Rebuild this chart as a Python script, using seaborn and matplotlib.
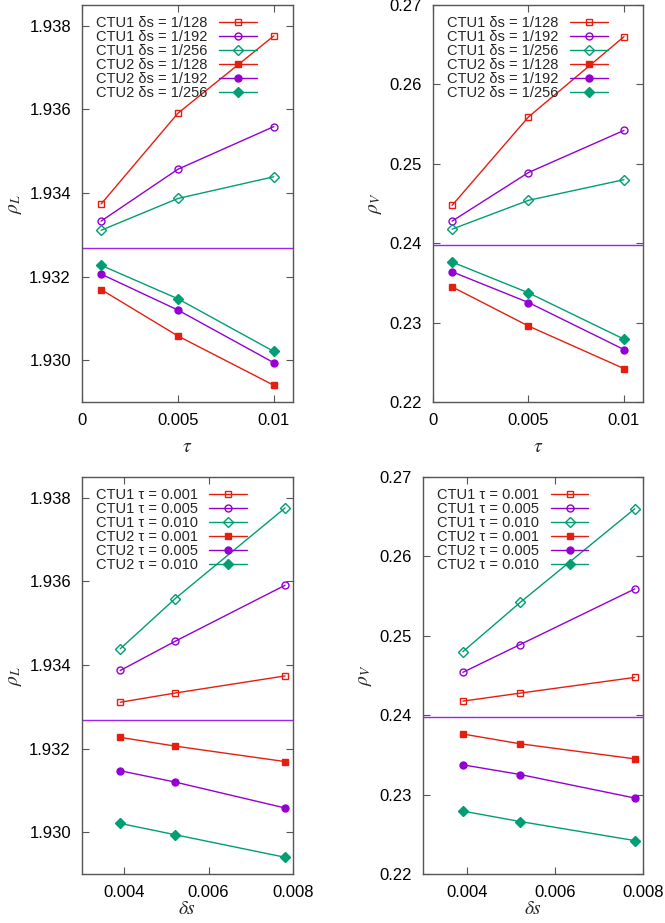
import numpy as np
import matplotlib
matplotlib.use("Agg")
import matplotlib.pyplot as plt
import seaborn as sns

# ── data ─────────────────────────────────────────────────
tau = [0.001, 0.005, 0.01]
ds = [1 / 256, 1 / 192, 1 / 128]
ds_names = ["1/128", "1/192", "1/256"]
tau_names = ["0.001", "0.005", "0.010"]

# rows: ds = 1/128, 1/192, 1/256 ; cols: tau = 0.001, 0.005, 0.01
rhoL_ctu1 = [[1.93374, 1.93591, 1.93776],
             [1.93333, 1.93457, 1.93559],
             [1.93311, 1.93387, 1.93439]]
rhoL_ctu2 = [[1.93169, 1.93058, 1.92940],
             [1.93206, 1.93120, 1.92994],
             [1.93227, 1.93147, 1.93021]]
rhoV_ctu1 = [[0.24476, 0.25590, 0.26600],
             [0.24278, 0.24890, 0.25420],
             [0.24177, 0.24540, 0.24800]]
rhoV_ctu2 = [[0.23450, 0.22957, 0.22421],
             [0.23640, 0.23253, 0.22661],
             [0.23763, 0.23375, 0.22792]]
rhoL_ref = 1.93269
rhoV_ref = 0.23975

# ── style ────────────────────────────────────────────────
sns.set_style("ticks")
plt.rcParams["font.family"] = ["Liberation Sans", "DejaVu Sans"]
plt.rcParams["mathtext.fontset"] = "stix"
colors = ["#e51e10", "#9400d3", "#009e73"]
markers = ["s", "o", "D"]
msizes = [5, 5, 5.5]
frame = "#555555"

fig = plt.figure(figsize=(6.65, 9.23), dpi=100)
W, H = 665, 923


def box(l, r, t, b):
    return [l / W, 1 - b / H, (r - l) / W, (b - t) / H]


def style_axes(ax):
    for s in ax.spines.values():
        s.set_color(frame)
        s.set_linewidth(1.0)
    ax.tick_params(direction="in", length=5, width=0.8, color=frame,
                   top=True, right=True, labelsize=12, labelcolor="black", pad=8)


def draw(ax, xs, top, bot, ref, names, prefix, transpose):
    top = np.array(top)
    bot = np.array(bot)
    if transpose:
        # rows become tau, x becomes ds (ascending): ds order 1/256,1/192,1/128
        top = top.T[:, ::-1]
        bot = bot.T[:, ::-1]
    for i in range(3):
        sns.lineplot(x=xs, y=top[i], ax=ax, color=colors[i], marker=markers[i],
                     markersize=msizes[i], markerfacecolor="none",
                     markeredgecolor=colors[i], markeredgewidth=1.0, linewidth=1.0,
                     label=f"CTU1 {prefix} = {names[i]}")
    for i in range(3):
        sns.lineplot(x=xs, y=bot[i], ax=ax, color=colors[i], marker=markers[i],
                     markersize=msizes[i], markerfacecolor=colors[i],
                     markeredgecolor=colors[i], markeredgewidth=1.0, linewidth=1.0,
                     label=f"CTU2 {prefix} = {names[i]}")
    ax.axhline(ref, color="#a020f0", linewidth=1.0)
    ax.legend(loc="upper left", bbox_to_anchor=(0.03, 0.99), frameon=False,
              markerfirst=False, fontsize=10.5, labelspacing=0.0,
              handlelength=2.6, handletextpad=0.8, borderpad=0.3,
              borderaxespad=0.2)
    style_axes(ax)


# top-left
ax1 = fig.add_axes(box(82, 293, 5, 402))
draw(ax1, tau, rhoL_ctu1, rhoL_ctu2, rhoL_ref, ds_names, "δs", False)
ax1.set_xlim(0, 0.011)
ax1.set_ylim(1.929, 1.9385)
ax1.set_xticks([0, 0.005, 0.01], ["0", "0.005", "0.01"])
ax1.set_yticks([1.930, 1.932, 1.934, 1.936, 1.938])
ax1.set_yticklabels(["1.930", "1.932", "1.934", "1.936", "1.938"])
ax1.set_xlabel(r"$\tau$", fontsize=14, labelpad=8)
ax1.set_ylabel(r"$\rho_L$", fontsize=14)

# top-right
ax2 = fig.add_axes(box(433, 643, 5, 402))
draw(ax2, tau, rhoV_ctu1, rhoV_ctu2, rhoV_ref, ds_names, "δs", False)
ax2.set_xlim(0, 0.011)
ax2.set_ylim(0.22, 0.27)
ax2.set_xticks([0, 0.005, 0.01], ["0", "0.005", "0.01"])
ax2.set_yticks([0.22, 0.23, 0.24, 0.25, 0.26, 0.27])
ax2.set_yticklabels(["0.22", "0.23", "0.24", "0.25", "0.26", "0.27"])
ax2.set_xlabel(r"$\tau$", fontsize=14, labelpad=8)
ax2.set_ylabel(r"$\rho_V$", fontsize=14)

# bottom-left
ax3 = fig.add_axes(box(82, 293, 477, 874))
draw(ax3, ds, rhoL_ctu1, rhoL_ctu2, rhoL_ref, tau_names, "τ", True)
ax3.set_xlim(0.003, 0.008)
ax3.set_ylim(1.929, 1.9385)
ax3.set_xticks([0.004, 0.006, 0.008], ["0.004", "0.006", "0.008"])
ax3.set_yticks([1.930, 1.932, 1.934, 1.936, 1.938])
ax3.set_yticklabels(["1.930", "1.932", "1.934", "1.936", "1.938"])
ax3.set_xlabel(r"$\delta s$", fontsize=14, labelpad=1)
ax3.set_ylabel(r"$\rho_L$", fontsize=14)

# bottom-right
ax4 = fig.add_axes(box(423, 643, 477, 874))
draw(ax4, ds, rhoV_ctu1, rhoV_ctu2, rhoV_ref, tau_names, "τ", True)
ax4.set_xlim(0.003, 0.008)
ax4.set_ylim(0.22, 0.27)
ax4.set_xticks([0.004, 0.006, 0.008], ["0.004", "0.006", "0.008"])
ax4.set_yticks([0.22, 0.23, 0.24, 0.25, 0.26, 0.27])
ax4.set_yticklabels(["0.22", "0.23", "0.24", "0.25", "0.26", "0.27"])
ax4.set_xlabel(r"$\delta s$", fontsize=14, labelpad=1)
ax4.set_ylabel(r"$\rho_V$", fontsize=14)

fig.savefig("out.png", dpi=100)
